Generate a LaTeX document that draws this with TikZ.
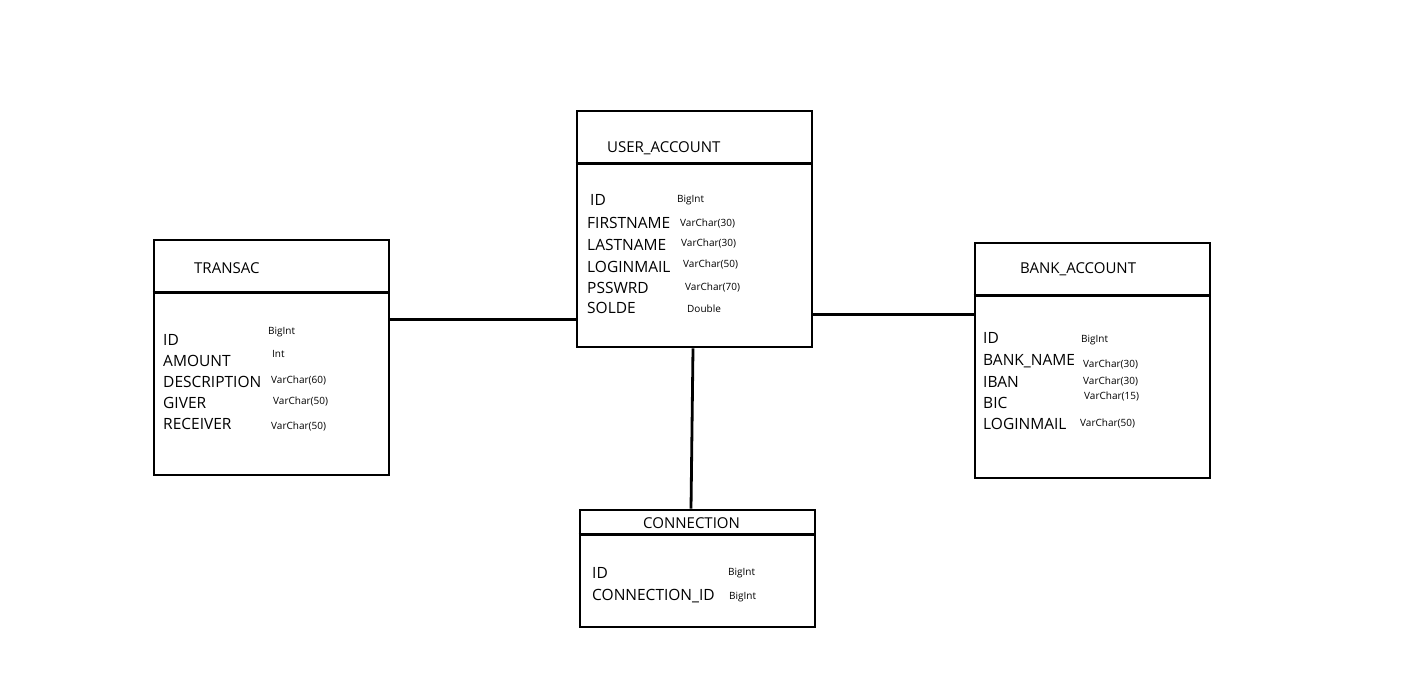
\documentclass[tikz,border=0pt]{standalone}
\usepackage{fontspec}
\setmainfont{Open Sans}
\usetikzlibrary{calc}

\begin{document}
\begin{tikzpicture}[
  x=1pt,y=-1pt,
  table/.style={
    draw,
    line width=2.8pt,
    inner sep=0pt,
    minimum width=235pt
  },
  divider/.style={line width=2.4pt},
  link/.style={line width=2.8pt},
  title/.style={anchor=base west,inner sep=0pt,font=\fontsize{15}{18}\selectfont},
  field/.style={anchor=base west,inner sep=0pt,font=\fontsize{15.5}{18}\selectfont},
  type/.style={anchor=base west,inner sep=0pt,font=\fontsize{10}{12}\selectfont}
]
  \useasboundingbox (0,0) rectangle (1416,672);

  % tables
  \node[table,minimum height=236pt] (user) at (694.5,229) {};
  \node[table,minimum height=235pt] (transac) at (271.5,357.5) {};
  \node[table,minimum height=235pt] (bank) at (1092.5,360.5) {};
  \node[table,minimum height=117pt] (conn) at (697.5,568.5) {};

  % header lines
  \draw[divider] ($(user.north west)+(0,54)$) -- ($(user.north east)+(0,54)$);
  \draw[divider] ($(transac.north west)+(0,54)$) -- ($(transac.north east)+(0,54)$);
  \draw[divider] ($(bank.north west)+(0,54)$) -- ($(bank.north east)+(0,54)$);
  \draw[divider] ($(conn.north west)+(0,26)$) -- ($(conn.north east)+(0,26)$);

  % USER_ACCOUNT
  \node[title] (userTitle) at (607,152) {USER\_ACCOUNT};
  \node[field] (userId) at (590,205) {ID};
  \node[field] (userFirst) at (587,228) {FIRSTNAME};
  \node[field] (userLast) at (587,250) {LASTNAME};
  \node[field] (userMail) at (587,272) {LOGINMAIL};
  \node[field] (userPwd) at (587,293) {PSSWRD};
  \node[field] (userSolde) at (587,313) {SOLDE};
  \node[type] (userIdT) at (677,202) {BigInt};
  \node[type] (userFirstT) at (680,226) {VarChar(30)};
  \node[type] (userLastT) at (681,246) {VarChar(30)};
  \node[type] (userMailT) at (683,267) {VarChar(50)};
  \node[type] (userPwdT) at (685,290) {VarChar(70)};
  \node[type] (userSoldeT) at (687,312) {Double};

  % TRANSAC
  \node[title] (transacTitle) at (194,273) {TRANSAC};
  \node[field] (transacId) at (163,345) {ID};
  \node[field] (transacAmount) at (163,366) {AMOUNT};
  \node[field] (transacDesc) at (163,387) {DESCRIPTION};
  \node[field] (transacGiver) at (163,408) {GIVER};
  \node[field] (transacRecv) at (163,429) {RECEIVER};
  \node[type] (transacIdT) at (268,334) {BigInt};
  \node[type] (transacAmountT) at (272,357) {Int};
  \node[type] (transacDescT) at (271,383) {VarChar(60)};
  \node[type] (transacGiverT) at (273,404) {VarChar(50)};
  \node[type] (transacRecvT) at (271,429) {VarChar(50)};

  % BANK_ACCOUNT
  \node[title] (bankTitle) at (1020,273) {BANK\_ACCOUNT};
  \node[field] (bankId) at (983,343) {ID};
  \node[field] (bankName) at (983,365) {BANK\_NAME};
  \node[field] (bankIban) at (983,387) {IBAN};
  \node[field] (bankBic) at (983,408) {BIC};
  \node[field] (bankMail) at (983,429) {LOGINMAIL};
  \node[type] (bankIdT) at (1081,342) {BigInt};
  \node[type] (bankNameT) at (1083,367) {VarChar(30)};
  \node[type] (bankIbanT) at (1083,384) {VarChar(30)};
  \node[type] (bankBicT) at (1084,399) {VarChar(15)};
  \node[type] (bankMailT) at (1080,426) {VarChar(50)};

  % CONNECTION
  \node[title] (connTitle) at (643,528) {CONNECTION};
  \node[field] (connId) at (592,578) {ID};
  \node[field] (connCid) at (592,600) {CONNECTION\_ID};
  \node[type] (connIdT) at (728,575) {BigInt};
  \node[type] (connCidT) at (729,599) {BigInt};

  % links
  \draw[link] ($(transac.north east)+(0,81)$) -- ($(user.north west)+(0,210)$);
  \draw[link] ($(user.north east)+(0,205)$) -- ($(bank.north west)+(0,73)$);
  \draw[link] ($(user.south)+(-1.5,0)$) -- ($(conn.north)+(-6.5,0)$);
\end{tikzpicture}
\end{document}
